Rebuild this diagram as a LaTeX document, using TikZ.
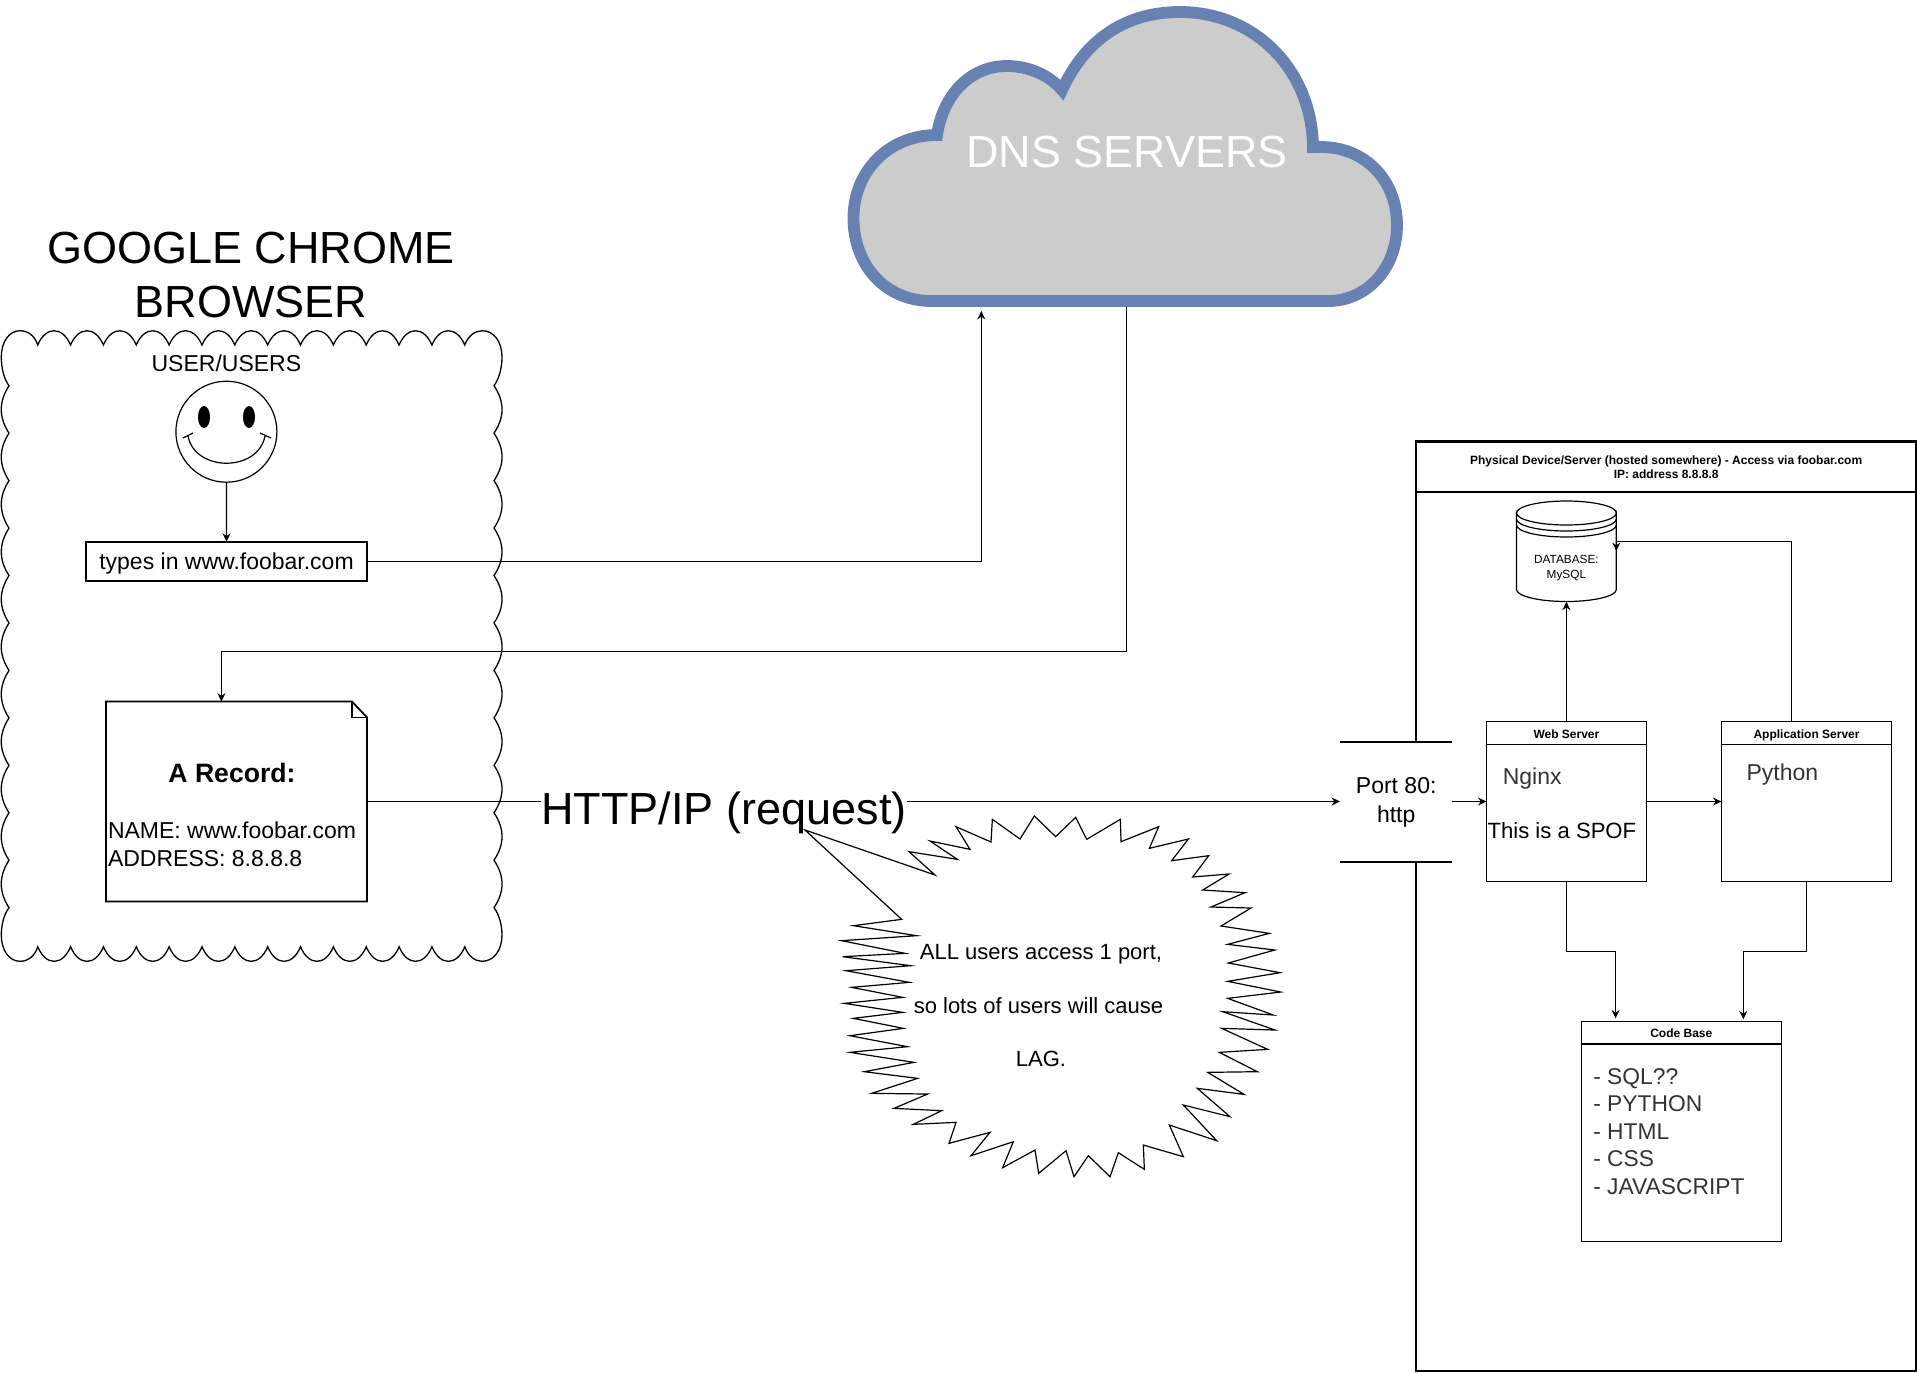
\documentclass[tikz,border=0pt]{standalone}
\usepackage{fontspec}
\setmainfont{Liberation Sans}
\usepackage{xcolor}
\usepackage{tikz}
\usetikzlibrary{positioning}
\usetikzlibrary{arrows.meta}

\definecolor{dnsline}{HTML}{6881B3}
\definecolor{dnsfill}{HTML}{CCCCCC}
\definecolor{softtext}{HTML}{333333}

\tikzset{
	>={Stealth[length=4.2pt,width=4pt]},
	every path/.style={line width=0.6pt},
	txt/.style={inner sep=0pt,outer sep=0pt,font=\fontsize{11.5}{14}\selectfont},
	big/.style={txt,font=\fontsize{22.5}{27}\selectfont},
	small/.style={txt,font=\fontsize{5.9}{7.5}\selectfont},
	heavy/.style={draw,line width=0.9pt,inner sep=0pt,outer sep=0pt},
	box/.style={draw,inner sep=0pt,outer sep=0pt,minimum width=#1},
	head/.style={box=#1,minimum height=11.3pt,text height=5.5pt,text depth=0.5pt,font=\fontsize{6}{7}\bfseries\selectfont},
}

\begin{document}
\begin{tikzpicture}[x=0.5pt,y=-0.5pt]
	\useasboundingbox (0,0) rectangle (1917,1372);

	\draw[line width=0.65pt] (37.7,345)
		foreach \i [evaluate=\i as \a using 37.7+32.85*\i, evaluate=\i as \b using 37.7+32.85*(\i+1)] in {0,...,12}
			{ .. controls (\a+8,326) and (\b-8,326) .. (\b,345) }
		.. controls (468,336) and (475,330.7) .. (482.5,330.7) .. controls (494,330.7) and (502,342) .. (502,357) .. controls (502,368) and (499,379) .. (494,385.7)
		foreach \i [evaluate=\i as \a using 385.7+47.45*\i, evaluate=\i as \b using 385.7+47.45*(\i+1)] in {0,...,10}
			{ .. controls (504.7,\a+16) and (504.7,\b-16) .. (494,\b) }
		.. controls (499,914) and (502,925) .. (502,935) .. controls (502,950) and (494,961.3) .. (482,961.3) .. controls (475,961.3) and (468,956) .. (464.8,946.7)
		foreach \i [evaluate=\i as \a using 464.8-32.85*\i, evaluate=\i as \b using 464.8-32.85*(\i+1)] in {0,...,12}
			{ .. controls (\a-8,966.2) and (\b+8,966.2) .. (\b,946.7) }
		.. controls (35,956) and (28,961.3) .. (20,961.3) .. controls (9,961.3) and (1.3,950) .. (1.3,935) .. controls (1.3,925) and (4,914) .. (9,907.7)
		foreach \i [evaluate=\i as \a using 907.7-47.45*\i, evaluate=\i as \b using 907.7-47.45*(\i+1)] in {0,...,10}
			{ .. controls (-1.3,\a-16) and (-1.3,\b+16) .. (9,\b) }
		.. controls (4,379) and (1.3,368) .. (1.3,357) .. controls (1.3,342) and (9,330.7) .. (20,330.7) .. controls (28,330.7) and (35,336) .. (37.7,345) -- cycle;

	\node[big,align=center] (chrome) at (251,275) {GOOGLE CHROME\\BROWSER};
	\node[draw,circle,inner sep=0pt,outer sep=0pt,minimum size=50.5pt] (smiley) at (226.4,431.7) {};
	\node[txt] (users) [above = 4.6pt of smiley] {USER/USERS};
	\fill (204,417) ellipse [x radius=6,y radius=11];
	\fill (249,417) ellipse [x radius=6,y radius=11];
	\draw (188,436) .. controls (195,472.3) and (258,472.3) .. (265,436);
	\draw (183,438) -- (193,433);
	\draw (260,433) -- (271,438);

	\node[heavy,txt,minimum width=140.5pt,minimum height=19.7pt,text height=9pt,text depth=1.1pt] (types) at (226.5,561.4) {types in www.foobar.com};
	\draw[->] (smiley.south) -- (types.north);

	\node[inner sep=0pt,outer sep=0pt,minimum width=130.5pt,minimum height=100pt] (rec) at (236.5,801.5) {};
	\draw[line width=0.9pt] (rec.north west) -- ([xshift=-7.5pt]rec.north east) -- ([yshift=-8pt]rec.north east) -- (rec.south east) -- (rec.south west) -- cycle;
	\draw ([xshift=-7.5pt]rec.north east) |- ([yshift=-8pt]rec.north east);
	\node[txt,font=\fontsize{13.3}{16}\bfseries\selectfont] (rectitle) at (232,773) {A Record:};
	\node[txt,align=left,anchor=west] (recbody) at (108,844) {NAME: www.foobar.com\\ADDRESS: 8.8.8.8};

	\draw[line width=5.9pt,draw=dnsline,fill=dnsfill] (931.6,301) .. controls (885,301) and (853.5,265) .. (853.5,218) .. controls (853.5,172) and (888,135) .. (937,135)
		.. controls (943,95) and (970,66) .. (1007,66) .. controls (1030,66) and (1050,76) .. (1062,90)
		.. controls (1085,40) and (1125,12) .. (1180,12) .. controls (1255,12) and (1312,70) .. (1313,147) -- (1321,147)
		.. controls (1365,147) and (1397,180) .. (1397,225) .. controls (1397,270) and (1365,301) .. (1328.7,301) -- cycle;
	\node[big,text=white] (dns) at (1127,151.7) {DNS SERVERS};
	\coordinate (dnsin) at (981.3,311);
	\coordinate (dnsout) at (1126.6,307);

	\draw[->] (types.east) -| (dnsin);
	\draw[->] (dnsout) |- (221.4,651.4) -- (221.4,701.5);

	\node[heavy,minimum width=249.85pt,minimum height=464.85pt,anchor=north west] (host) at (1416.3,441.3) {};
	\node[heavy,minimum width=249.85pt,minimum height=25pt,anchor=north,align=center,font=\fontsize{6}{6.85}\bfseries\selectfont] (hosthead) at ([yshift=-0.5pt]host.north) {Physical Device/Server (hosted somewhere) - Access via foobar.com\\IP: address 8.8.8.8};

	\node[fill=white,inner sep=0pt,outer sep=0pt,minimum width=56.25pt,minimum height=60pt,align=center,font=\fontsize{11.5}{14.5}\selectfont] (port) at (1396.2,802) {Port 80:\\http};
	\draw[line width=0.9pt] (port.north west) -- (port.north east);
	\draw[line width=0.9pt] (port.south west) -- (port.south east);

	\node[box=80pt,minimum height=79.8pt,anchor=north west] (web) at (1486.4,721.7) {};
	\node[head=80pt,anchor=north] (webhead) at (web.north) {Web Server};
	\node[txt,anchor=west,text=softtext] (nginx) at (1502.8,779) {Nginx};
	\node[txt,anchor=west,font=\fontsize{11.05}{14}\selectfont] (spof) at (1487.6,830.5) {This is a SPOF};

	\node[box=85.1pt,minimum height=79.8pt] (app) [right = 37.5pt of web] {};
	\node[head=85.1pt,anchor=north] (apphead) at (app.north) {Application Server};
	\node[txt,anchor=west,text=softtext] (python) at (1746.5,774.5) {Python};

	\node[box=100pt,minimum height=110pt,anchor=north west] (code) at (1581.3,1021.3) {};
	\node[head=100pt,anchor=north] (codehead) at (code.north) {Code Base};
	\node[txt,anchor=north west,align=left,text=softtext,font=\fontsize{11.4}{13.75}\selectfont] (codelist) at (1593.3,1068.5) {- SQL??\\- PYTHON\\- HTML\\- CSS\\- JAVASCRIPT};

	\draw (1516.5,513) arc [start angle=180,end angle=0,x radius=49.9,y radius=12] -- (1616.3,589.5) arc [start angle=0,end angle=180,x radius=49.9,y radius=12] -- cycle;
	\draw (1516.5,513) arc [start angle=180,end angle=360,x radius=49.9,y radius=12];
	\draw (1516.5,519) arc [start angle=180,end angle=0,x radius=49.9,y radius=12];
	\draw (1516.5,525) arc [start angle=180,end angle=0,x radius=49.9,y radius=12];
	\node[small,align=center] (db) at (1566.4,568) {DATABASE:\\MySQL};
	\coordinate (dbbase) at (1566.4,601.7);
	\coordinate (dbside) at (1616.3,551);
	\coordinate (appout) at (1791.4,721.7);

	\draw[->] (webhead.north) -- (dbbase);
	\draw[->] (appout) |- (1616.3,541.3) -- (dbside);
	\draw[->] (port.east |- web.west) -- (web.west);
	\draw[->] (web.east) -- (app.west);
	\draw[->] (web.south) |- (1615.6,951.3) -- (1615.6,1018.3);
	\draw[->] (app.south) |- (1743.3,951.3) -- (1743.3,1019.3);

	\draw[->] (rec.east) -- (port.west |- rec.east);
	\node[big,fill=white,inner xsep=0.3pt] (http) at (724,813) {HTTP/IP (request)};

	\draw[shift={(800,780)},x=0.16667pt,y=-0.16667pt] (15,150) -- (405,285) -- (327,215) -- (472,238) -- (390,183) -- (510,208) -- (468,140) -- (573,186) -- (577,118) -- (660,177) -- (703,108) -- (767,170) -- (827,112) -- (860,178) -- (961,118) -- (963,185) -- (1076,140) -- (1048,205) -- (1165,177) -- (1115,242) -- (1226,227) -- (1178,291) -- (1287,282) -- (1208,330) -- (1335,338) -- (1233,381) -- (1353,384) -- (1263,438) -- (1408,460) -- (1283,493) -- (1424,510) -- (1285,549) -- (1440,578) -- (1283,604) -- (1442,636) -- (1283,655) -- (1420,705) -- (1268,695) -- (1425,750) -- (1265,745) -- (1403,808) -- (1258,817) -- (1372,875) -- (1223,877) -- (1332,943) -- (1192,925) -- (1290,1010) -- (1150,975) -- (1250,1082) -- (1108,1035) -- (1150,1130) -- (1030,1095) -- (1033,1168) -- (955,1118) -- (930,1190) -- (865,1127) -- (822,1190) -- (798,1112) -- (716,1180) -- (705,1110) -- (608,1163) -- (640,1085) -- (513,1127) -- (570,1057) -- (447,1090) -- (468,1027) -- (340,1033) -- (425,992) -- (282,985) -- (383,942) -- (215,940) -- (353,895) -- (193,875) -- (342,847) -- (150,817) -- (322,800) -- (150,767) -- (310,745) -- (160,715) -- (308,697) -- (133,670) -- (308,652) -- (155,622) -- (328,607) -- (138,572) -- (332,557) -- (128,530) -- (315,520) -- (125,482) -- (350,467) -- (160,437) -- (305,418) -- cycle;
	\node[txt,font=\fontsize{11}{26.75}\selectfont,align=center] (lag) at (1041,1005.7) {ALL users access 1 port,\\so lots of users will cause\hspace*{2.5pt}\mbox{}\\LAG.};
\end{tikzpicture}
\end{document}
